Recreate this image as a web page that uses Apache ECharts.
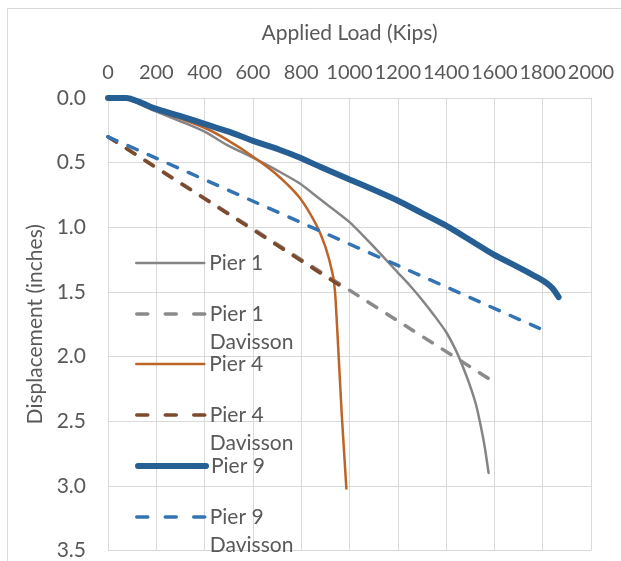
<!DOCTYPE html>
<html>
<head>
<meta charset="utf-8">
<script src="https://cdn.jsdelivr.net/npm/echarts@6/dist/echarts.min.js"></script>
<style>
  html, body { margin: 0; padding: 0; background: #fff; }
  #canvas { width: 621px; height: 561px; }
</style>
</head>
<body>
<div id="canvas"></div>
<script>
// load (kips), displacement (inches)
const pier1 = [[0,0],[80,0.01],[193,0.1],[300,0.18],[400,0.26],[490,0.36],[598,0.46],[700,0.56],[793,0.66],[876,0.78],[1000,0.96],[1100,1.15],[1200,1.35],[1250,1.45],[1300,1.56],[1350,1.68],[1400,1.81],[1440,1.95],[1470,2.08],[1500,2.23],[1525,2.38],[1545,2.55],[1560,2.7],[1576,2.9]];
const pier1Davisson = [[0,0.3],[1576,2.17]];
const pier4 = [[0,0],[80,0.01],[193,0.09],[300,0.16],[400,0.23],[490,0.32],[598,0.45],[697,0.59],[793,0.77],[862,0.98],[900,1.15],[930,1.36],[940,1.5],[948,1.75],[958,2.1],[968,2.45],[978,2.75],[987,3.02]];
const pier4Davisson = [[0,0.3],[993,1.49]];
const pier9 = [[0,0],[76,0],[130,0.03],[193,0.08],[300,0.14],[400,0.2],[500,0.26],[598,0.33],[710,0.4],[793,0.46],[876,0.53],[1000,0.63],[1100,0.71],[1207,0.8],[1300,0.89],[1393,0.98],[1500,1.1],[1596,1.21],[1700,1.31],[1760,1.37],[1799,1.41],[1840,1.47],[1866,1.54]];
const pier9Davisson = [[0,0.3],[1808,1.8]];

const names = ["Pier 1", "Pier 1 Davisson", "Pier 4", "Pier 4 Davisson", "Pier 9", "Pier 9 Davisson"];
const legendCenters = [263, 314, 364, 415, 466, 517];

const font = "Lato";
const txt = "#595959";

function drawChart(canvas="canvas") {
  const myChart = echarts.init(document.getElementById(canvas), null, {renderer: 'canvas'});

  const styles = [
    {data: pier1, color: '#858585', width: 2.5, type: 'solid'},
    {data: pier1Davisson, color: '#8a8a8a', width: 3.5, type: [10, 12]},
    {data: pier4, color: '#bd6428', width: 2.5, type: 'solid'},
    {data: pier4Davisson, color: '#7d4a2c', width: 3.5, type: [10, 12]},
    {data: pier9, color: '#265f94', width: 6, type: 'solid'},
    {data: pier9Davisson, color: '#3474b2', width: 3.5, type: [10, 12]}
  ];

  const legends = names.map((name, i) => {
    const two = name.indexOf("Davisson") > 0;
    const s = styles[i];
    return {
      data: [name],
      left: 135,
      top: two ? legendCenters[i] - 42 : legendCenters[i] - 12,
      padding: 0,
      itemWidth: 68,
      itemHeight: 14,
      selectedMode: false,
      itemStyle: {opacity: 0},
      lineStyle: {color: s.color, width: s.width, type: two ? [11, 17.5] : 'solid', cap: 'round'},
      formatter: n => two ? "\n" + n.replace(" Davisson", "\nDavisson") : n,
      textStyle: {fontFamily: font, fontSize: 21, color: txt, lineHeight: two ? 28 : 24}
    };
  });

  const option = {
    animation: false,
    graphic: [{
      type: 'rect',
      shape: {x: 7.5, y: 8.5, width: 720, height: 700},
      style: {fill: 'none', stroke: '#d9d9d9', lineWidth: 1},
      silent: true
    }],
    grid: {left: 108, top: 98, right: 30, bottom: 6},
    legend: legends,
    xAxis: {
      type: 'value',
      position: 'top',
      min: 0, max: 2000, interval: 200,
      name: "Applied Load (Kips)",
      nameLocation: 'middle',
      nameGap: 54,
      nameTextStyle: {fontFamily: font, fontSize: 21, color: txt},
      axisLine: {show: false},
      axisTick: {show: false},
      axisLabel: {fontFamily: font, fontSize: 20, color: txt, margin: 15,
        showMaxLabel: true, showMinLabel: true, hideOverlap: false,
        formatter: v => String(v)},
      splitLine: {lineStyle: {color: '#d9d9d9', width: 1}}
    },
    yAxis: {
      type: 'value',
      inverse: true,
      min: 0, max: 3.5, interval: 0.5,
      name: "Displacement (inches)",
      nameLocation: 'middle',
      nameGap: 60,
      nameTextStyle: {fontFamily: font, fontSize: 21, color: txt},
      axisLine: {show: false},
      axisTick: {show: false},
      axisLabel: {fontFamily: font, fontSize: 21, color: txt, margin: 22,
        showMaxLabel: true, formatter: v => v.toFixed(1)},
      splitLine: {lineStyle: {color: '#d9d9d9', width: 1}}
    },
    series: []
  };

  styles.forEach((s, i) => {
    option.series.push({
      name: names[i],
      type: 'line',
      data: s.data,
      symbol: 'none',
      smooth: 0.25,
      color: s.color,
      lineStyle: {color: s.color, width: s.width, type: s.type, cap: 'round', join: 'round'}
    });
  });

  option && myChart.setOption(option);
}
drawChart();
</script>
</body>
</html>
